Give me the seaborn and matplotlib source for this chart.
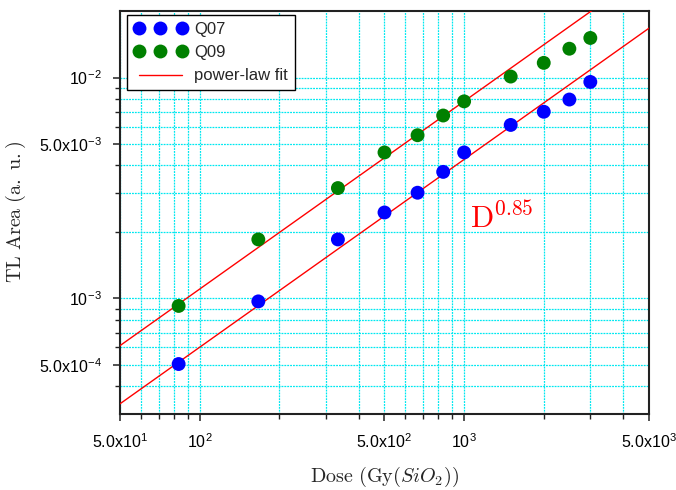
import numpy as np
import pandas as pd
import matplotlib
matplotlib.use("Agg")
import matplotlib.pyplot as plt
from matplotlib.ticker import FixedLocator, NullFormatter, FixedFormatter
import seaborn as sns

# ---- data ----
dose = [83.3, 166.7, 333.3, 500, 666.7, 833.3, 1000, 1500, 2000, 2500, 3000]
q07 = [5.05e-4, 9.7e-4, 1.85e-3, 2.45e-3, 3.01e-3, 3.74e-3, 4.58e-3, 6.1e-3, 7.0e-3, 7.95e-3, 9.55e-3]
q09 = [9.25e-4, 1.85e-3, 3.16e-3, 4.58e-3, 5.48e-3, 6.73e-3, 7.8e-3, 1.01e-2, 1.165e-2, 1.35e-2, 1.51e-2]
fit_exponent = 0.85
fit_amp_q07 = 1.20e-5
fit_amp_q09 = 2.20e-5
fit_range = [40, 6000]

x_major = [50, 100, 500, 1000, 5000]
x_major_labels = [r'5.0x10$^{\mathregular{1}}$', r'10$^{\mathregular{2}}$',
                  r'5.0x10$^{\mathregular{2}}$', r'10$^{\mathregular{3}}$',
                  r'5.0x10$^{\mathregular{3}}$']
y_major = [5e-4, 1e-3, 5e-3, 1e-2]
y_major_labels = [r'5.0x10$^{\mathregular{-4}}$', r'10$^{\mathregular{-3}}$',
                  r'5.0x10$^{\mathregular{-3}}$', r'10$^{\mathregular{-2}}$']

# ---- style ----
sns.set_style("ticks")
plt.rcParams['font.family'] = ['Liberation Sans', 'DejaVu Sans']
plt.rcParams['mathtext.fontset'] = 'cm'

fig = plt.figure(figsize=(6.76, 4.90), dpi=100)
ax = fig.add_axes([120/676, 1-414/490, (649-120)/676, (414-11)/490])

df = pd.DataFrame({
    'dose': dose * 2,
    'area': q07 + q09,
    'sample': ['Q07'] * len(dose) + ['Q09'] * len(dose),
})

xf = np.geomspace(fit_range[0], fit_range[1], 200)
fit_df = pd.DataFrame({
    'dose': np.concatenate([xf, xf]),
    'area': np.concatenate([fit_amp_q07 * xf ** fit_exponent, fit_amp_q09 * xf ** fit_exponent]),
    'which': ['Q07'] * len(xf) + ['Q09'] * len(xf),
})

ax.set_xscale('log')
ax.set_yscale('log')

sns.lineplot(data=fit_df, x='dose', y='area', units='which', estimator=None,
             color='red', linewidth=1.0, ax=ax, label='power-law fit', zorder=3)
sns.scatterplot(data=df, x='dose', y='area', hue='sample',
                palette={'Q07': '#0000ff', 'Q09': '#008000'},
                s=100, edgecolor='none', ax=ax, zorder=4)

ax.set_xlim(50, 5000)
ax.set_ylim(3e-4, 2e-2)

# ticks
x_minor = [60, 70, 80, 90, 200, 300, 400, 600, 700, 800, 900, 2000, 3000, 4000]
y_minor = [4e-4, 6e-4, 7e-4, 8e-4, 9e-4, 2e-3, 3e-3, 4e-3, 6e-3, 7e-3, 8e-3, 9e-3]
ax.xaxis.set_major_locator(FixedLocator(x_major))
ax.xaxis.set_major_formatter(FixedFormatter(x_major_labels))
ax.xaxis.set_minor_locator(FixedLocator(x_minor))
ax.xaxis.set_minor_formatter(NullFormatter())
ax.yaxis.set_major_locator(FixedLocator(y_major))
ax.yaxis.set_major_formatter(FixedFormatter(y_major_labels))
ax.yaxis.set_minor_locator(FixedLocator(y_minor))
ax.yaxis.set_minor_formatter(NullFormatter())

ax.tick_params(which='major', direction='out', length=5, width=1.1, labelsize=11.5,
               colors='#222222', labelcolor='black', pad=8)
ax.tick_params(which='minor', direction='out', length=3.5, width=1.0, colors='#222222')

ax.grid(True, which='both', color='#00e8f0', linestyle=(0, (1.5, 0.8)), linewidth=0.9, zorder=0)
ax.set_axisbelow(True)

for sp in ax.spines.values():
    sp.set_visible(True)
    sp.set_color('#222222')
    sp.set_linewidth(1.5)

ax.set_xlabel(r'$\mathrm{Dose\ (Gy(}SiO_2\mathrm{))}$', fontsize=14.5, labelpad=10)
ax.set_ylabel(r'$\mathrm{TL\ Area\ (a.\ u.)}$', fontsize=14.5, labelpad=8)

ax.text(1052, 2.09e-3, r'$\mathrm{D}^{0.85}$', color='red', fontsize=22,
        ha='left', va='baseline')

# legend
handles, labels = ax.get_legend_handles_labels()
order = [labels.index('Q07'), labels.index('Q09'), labels.index('power-law fit')]
leg = ax.legend([handles[i] for i in order], [labels[i] for i in order],
                loc='upper left', bbox_to_anchor=(0.013, 0.99), borderaxespad=0,
                scatterpoints=3, numpoints=3, handlelength=3.2, handletextpad=0.45,
                fontsize=12, fancybox=False, framealpha=1, edgecolor='black',
                borderpad=0.4, labelspacing=0.5)
leg.get_frame().set_linewidth(1.0)

fig.savefig('out.png', dpi=100)
